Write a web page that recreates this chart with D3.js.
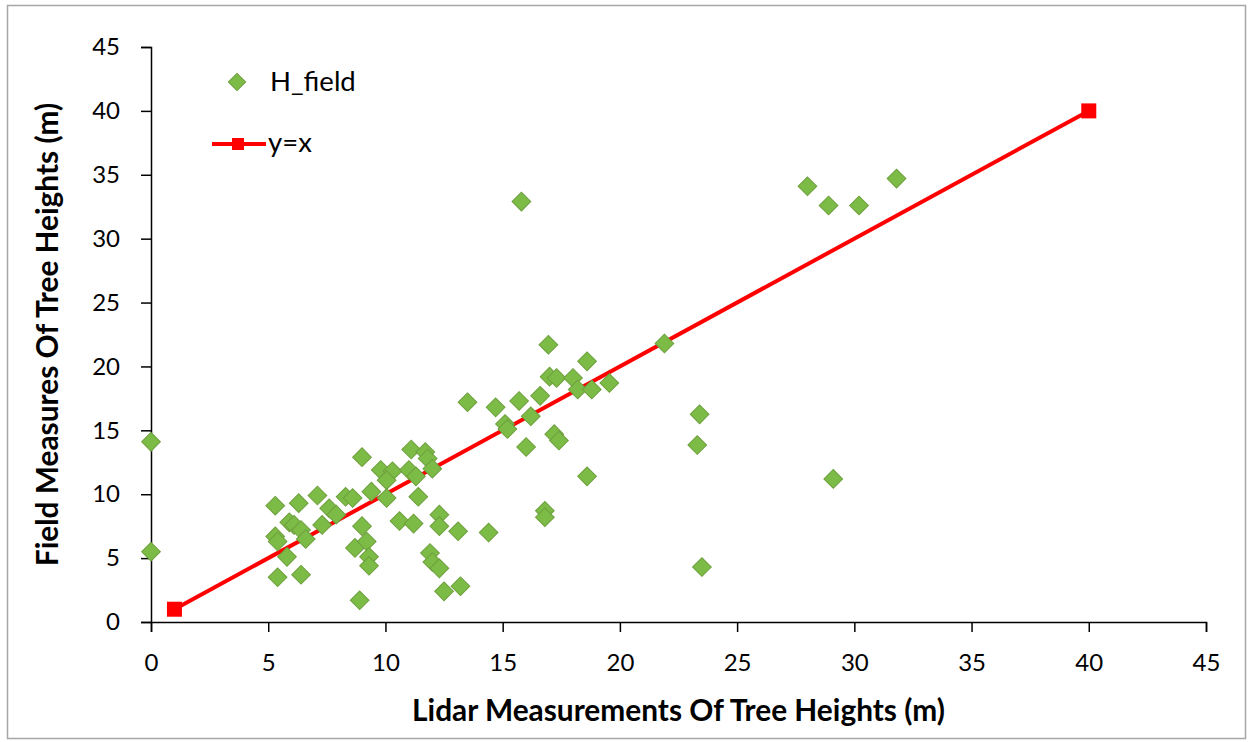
<!DOCTYPE html>
<html>
<head>
<meta charset="utf-8">
<script src="https://cdn.jsdelivr.net/npm/d3@7"></script>
<style>
  html, body { margin: 0; padding: 0; background: #fff; }
  svg { display: block; }
  text { font-family: Lato, "Open Sans", sans-serif; }
</style>
</head>
<body>
<svg id="chart" width="1253" height="742"></svg>
<script>
// ---- data ----
const lidarHeights = [
  0, 0,
  5.3, 6.3, 7.1, 8.3, 8.6, 9.4, 5.9, 6.1, 6.4, 6.6, 5.3, 5.4, 7.3, 7.6, 7.9,
  5.8, 5.4, 6.4, 9.0, 8.7, 9.2, 9.3, 9.3, 8.9, 9.0, 9.8, 10.3, 10.05, 10.05,
  11.0, 11.3, 11.1, 11.7, 11.8, 12.0, 11.4, 10.6, 11.2, 12.3, 12.3, 13.1, 14.4,
  11.9, 12.0, 12.3, 12.5, 13.2,
  13.5, 14.7, 15.7, 16.6, 16.2, 15.1, 15.2, 16.0, 17.2, 17.4, 16.95, 18.6,
  17.0, 17.3, 18.0, 18.2, 18.8, 19.55, 21.9, 18.6, 16.8, 16.8, 15.8,
  23.4, 23.3, 23.5, 29.1, 28.0, 28.9, 30.2, 31.8
];
const fieldHeights = [
  14.1, 5.5,
  9.1, 9.3, 9.9, 9.8, 9.7, 10.2, 7.8, 7.6, 7.2, 6.5, 6.7, 6.3, 7.6, 8.9, 8.4,
  5.1, 3.5, 3.7, 7.5, 5.8, 6.3, 5.1, 4.4, 1.7, 12.9, 11.9, 11.8, 11.1, 9.7,
  11.9, 11.4, 13.5, 13.3, 12.8, 12.0, 9.8, 7.9, 7.7, 8.4, 7.5, 7.1, 7.0,
  5.4, 4.7, 4.2, 2.4, 2.8,
  17.2, 16.8, 17.3, 17.7, 16.1, 15.5, 15.1, 13.7, 14.7, 14.2, 21.7, 20.4,
  19.2, 19.1, 19.1, 18.2, 18.2, 18.7, 21.8, 11.4, 8.7, 8.2, 32.9,
  16.25, 13.85, 4.3, 11.2, 34.1, 32.6, 32.6, 34.7
];
const lineX = [1, 40];
const lineY = [1, 40];
const axisTicks = [0, 5, 10, 15, 20, 25, 30, 35, 40, 45];
const seriesNames = ["H_field", "y=x"];
const xTitle = "Lidar Measurements Of Tree Heights (m)";
const yTitle = "Field Measures Of Tree Heights (m)";

// ---- layout ----
const svg = d3.select("#chart");
const W = 1253, H = 742;
const plot = { left: 151, right: 1206, top: 47, bottom: 622 };

svg.append("rect").attr("x", 0).attr("y", 0).attr("width", W).attr("height", H).attr("fill", "#fff");
svg.append("rect").attr("x", 7.5).attr("y", 5.5).attr("width", W - 15).attr("height", H - 9)
  .attr("fill", "none").attr("stroke", "#a6a6a6").attr("stroke-width", 1.5);

const x = d3.scaleLinear().domain([0, 45]).range([plot.left, plot.right]);
const y = d3.scaleLinear().domain([0, 45]).range([plot.bottom, plot.top]);

const xAxis = svg.append("g").attr("transform", `translate(0,${plot.bottom})`)
  .call(d3.axisBottom(x).tickValues(axisTicks).tickSize(10).tickPadding(22).tickFormat(d3.format("d")));
const yAxis = svg.append("g").attr("transform", `translate(${plot.left},0)`)
  .call(d3.axisLeft(y).tickValues(axisTicks).tickSize(10).tickPadding(21).tickFormat(d3.format("d")));

[xAxis, yAxis].forEach(g => {
  g.select(".domain").attr("stroke", "#000").attr("stroke-width", 1.5);
  g.selectAll(".tick line").attr("stroke", "#000").attr("stroke-width", 1.5);
  g.selectAll(".tick text").attr("fill", "#000").style("font-size", "24px").style("font-family", "Lato, 'Open Sans', sans-serif");
});

// ---- y = x line ----
const linePts = lineX.map((d, i) => [d, lineY[i]]);
svg.append("path")
  .datum(linePts)
  .attr("fill", "none").attr("stroke", "#ff0000").attr("stroke-width", 4)
  .attr("d", d3.line().x(d => x(d[0])).y(d => y(d[1])));
svg.selectAll("rect.sq").data(linePts).join("rect").attr("class", "sq")
  .attr("x", d => x(d[0]) - 7.5).attr("y", d => y(d[1]) - 7.5)
  .attr("width", 15).attr("height", 15).attr("fill", "#ff0000");

// ---- scatter ----
const diamond = d3.symbol().type(d3.symbolSquare).size(175);
const pts = lidarHeights.map((d, i) => [d, fieldHeights[i]]);
svg.append("g").selectAll("path").data(pts).join("path")
  .attr("transform", d => `translate(${x(d[0])},${y(d[1])}) rotate(45)`)
  .attr("d", diamond)
  .attr("fill", "#7dbb47").attr("stroke", "#6d9f3d").attr("stroke-width", 1);

// ---- legend ----
const lg = svg.append("g");
lg.append("path").attr("transform", "translate(237,82) rotate(45)")
  .attr("d", d3.symbol().type(d3.symbolSquare).size(150))
  .attr("fill", "#7dbb47").attr("stroke", "#6d9f3d").attr("stroke-width", 1);
lg.append("text").attr("x", 270).attr("y", 91).text(seriesNames[0])
  .style("font-size", "27.5px").attr("fill", "#000");
lg.append("line").attr("x1", 212).attr("x2", 266).attr("y1", 144).attr("y2", 144)
  .attr("stroke", "#ff0000").attr("stroke-width", 4);
lg.append("rect").attr("x", 232).attr("y", 138).attr("width", 12).attr("height", 12).attr("fill", "#ff0000");
lg.append("text").attr("x", 268).attr("y", 152).text(seriesNames[1])
  .style("font-size", "27.5px").attr("fill", "#000");

// ---- titles ----
const xt = svg.append("text").attr("x", (plot.left + plot.right) / 2).attr("y", 711).attr("dy", "0.35em")
  .attr("text-anchor", "middle").style("font-weight", "bold").style("font-size", "26px").attr("fill", "#000")
  .text(xTitle);
const target = 533;
let fs = 26 * target / xt.node().getComputedTextLength();
xt.style("font-size", fs + "px");

svg.append("text").attr("transform", `translate(48,${(plot.top + plot.bottom) / 2}) rotate(-90)`)
  .attr("dy", "0.35em").attr("text-anchor", "middle").style("font-weight", "bold")
  .style("font-size", fs + "px").attr("fill", "#000").text(yTitle);
</script>
</body>
</html>
